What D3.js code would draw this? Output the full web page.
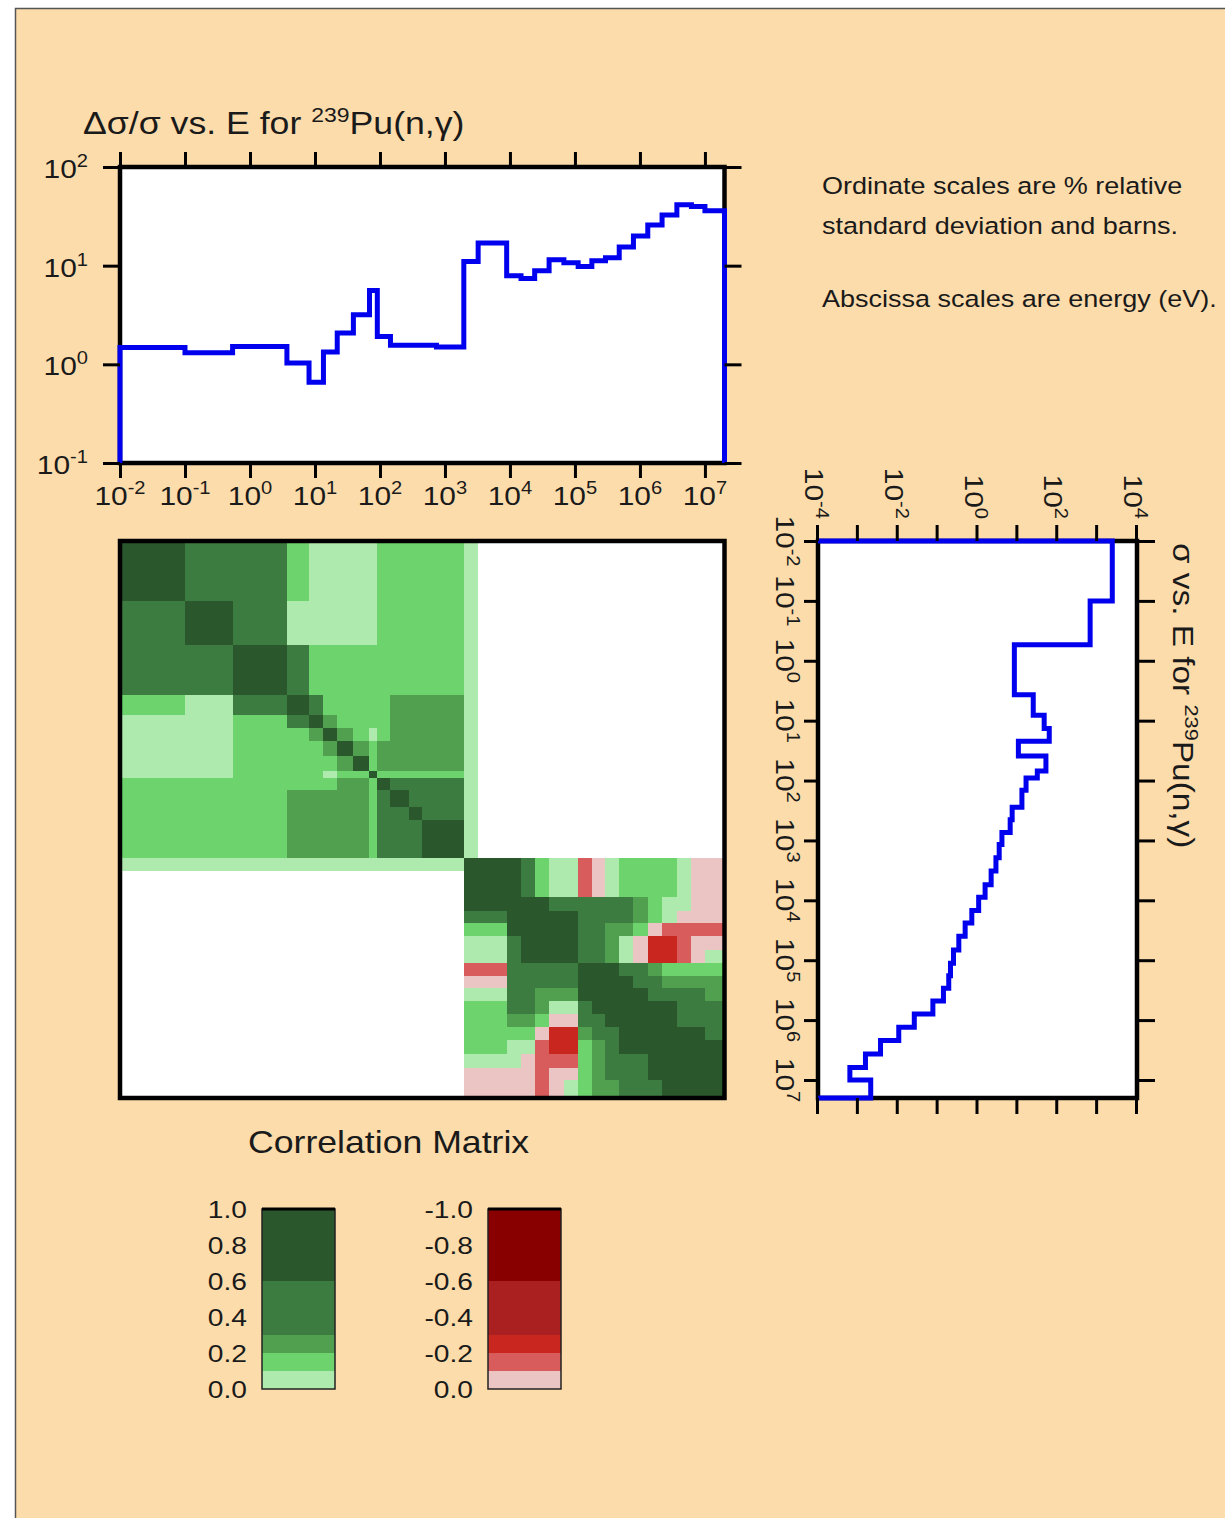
<!DOCTYPE html>
<html>
<head>
<meta charset="utf-8">
<script src="https://cdn.jsdelivr.net/npm/d3@7"></script>
<style>
body { margin: 0; background: #fff; }
text { font-family: "Liberation Sans", Arial, Helvetica, sans-serif; fill: #1a1a1a; white-space: pre; }
</style>
</head>
<body>
<div id="chart"></div>
<script>
// energy group boundaries (eV), 33 groups
var groupEdges = [0.01, 0.1, 0.54, 3.7, 8.1, 13.5, 22, 39, 69, 91, 145, 280, 450, 740, 1170, 1950,
  3240, 5500, 8900, 14800, 24000, 40000, 67600, 112000, 182000, 295000, 480000, 794000,
  1.32e6, 2.19e6, 3.7e6, 6.2e6, 1e7, 2e7];

// relative standard deviation (%) per group
var relStdDev = [1.48, 1.31, 1.52, 1.03, 0.66, 1.33, 2.08, 3.18, 5.6, 1.92, 1.56, 1.56, 1.56, 1.5, 1.5,
  11.0, 17.0, 17.0, 7.9, 7.4, 8.9, 11.5, 10.7, 9.8, 11.2, 12.0, 15.5, 20.0, 25.8, 32.7, 41.5, 39.7, 36.0];

// capture cross section (barns) per group
var crossSection = [2400, 668, 8.4, 25, 47, 63, 10.6, 52, 31.6, 16.5, 13, 7.4, 6.6, 4.1, 3.5,
  2.9, 2.2, 1.55, 1.07, 0.72, 0.49, 0.34, 0.25, 0.21, 0.19, 0.14, 0.076, 0.026, 0.0106, 0.0037,
  0.00155, 0.00063, 0.0021];

// correlation matrix, upper triangle: row i starts at the diagonal
// D .6-1, M .3-.6, G .2-.3, B .1-.2, P 0-.1, r 0..-.1, s -.1..-.2, t -.2..-.3, "." none
var corrUpper = [
  "DMMBPPPPPBBBBBBP.................",
  "DMPPPPPPBBBBBBP.................",
  "DMBBBBBBBBBBBP.................",
  "DMBBBBBGGGGGP.................",
  "DGBBBBGGGGGP.................",
  "DGBPBGGGGGP.................",
  "DGBGGGGGGP.................",
  "DBGGGGGGP.................",
  "DBBBBBBP.................",
  "DMMMMMP.................",
  "DMMMMP.................",
  "DMMMP.................",
  "DDDP.................",
  "DDP.................",
  "DP.................",
  "DDDDMBPPsrPBBBBPrr",
  "DDDMBPPsrPBBBBPrr",
  "DDMBPPsrPBBBBPrr",
  "DDDMMMMMMGBPPrr",
  "DDDDMMMMGBPrrr",
  "DDDMMGGBrssss",
  "DDMMGPrttsrr",
  "DMMGPrttsrP",
  "DDDMMGBBBB",
  "DDDMMGGGG",
  "DDDMMMMG",
  "DDDDMMM",
  "DDDMMM",
  "DDDDM",
  "DDDD",
  "DDD",
  "DD",
  "D"
];
var corrCodes = {D: 0.8, M: 0.45, G: 0.25, B: 0.15, P: 0.05, r: -0.05, s: -0.15, t: -0.25, u: -0.45, v: -0.8};

var corrThresholds = [0.1, 0.2, 0.3, 0.6];
var greenColors = ["#AEEAAD", "#6CD36D", "#50A04F", "#3D7C41", "#2B572C"];
var redColors = ["#EBC4C4", "#D95C5C", "#C8261F", "#AA1F1F", "#880000"];
var legendBands = [0, 0.1, 0.2, 0.3, 0.6, 1.0];
var legendTicks = [0, 0.2, 0.4, 0.6, 0.8, 1.0];

var energyTicks = [1e-2, 1e-1, 1, 10, 1e2, 1e3, 1e4, 1e5, 1e6, 1e7];
var relTicks = [0.1, 1, 10, 100];
var xsTicks = [1e-4, 1e-3, 1e-2, 1e-1, 1, 10, 1e2, 1e3, 1e4];
var xsLabelTicks = [1e-4, 1e-2, 1, 1e2, 1e4];

var SX = 1.15; // wide lettering of the original
var blue = "#0000EE";

var svg = d3.select("#chart").append("svg")
  .attr("width", 1225)
  .attr("height", 1518);

svg.append("rect").attr("width", 1225).attr("height", 1518).attr("fill", "#fff");
svg.append("rect")
  .attr("x", 15.5).attr("y", 8.5)
  .attr("width", 1240).attr("height", 1540)
  .attr("fill", "#FDDCAB")
  .attr("stroke", "#555")
  .attr("stroke-width", 1.5);

function label(parent, x, y, size, anchor) {
  return parent.append("g")
    .attr("transform", "translate(" + x + "," + y + ") scale(" + SX + ",1)")
    .append("text")
    .attr("text-anchor", anchor || "start")
    .style("font-size", size + "px");
}
function powTen(parent, x, y, v, anchor) {
  var t = label(parent, x, y, 26, anchor);
  t.append("tspan").text("10");
  t.append("tspan").attr("dy", -11).style("font-size", "17.5px").text(String(Math.round(Math.log10(v))));
}
function tickStyle(g) {
  g.select(".domain").remove();
  g.selectAll(".tick line").attr("stroke", "#000").attr("stroke-width", 3);
}
function stepPoints(values, floor) {
  var pts = [[groupEdges[0], floor]];
  values.forEach(function(v, i) {
    pts.push([groupEdges[i], v]);
    pts.push([groupEdges[i + 1], v]);
  });
  pts.push([groupEdges[groupEdges.length - 1], floor]);
  return pts;
}
function corrColor(v) {
  var s = d3.scaleThreshold().domain(corrThresholds);
  return v >= 0 ? s.range(greenColors)(v) : s.range(redColors)(-v);
}

// ---------- top plot: relative std dev vs energy ----------
var xE = d3.scaleLog().domain([1e-2, 2e7]).range([120, 724.5]);
var yRel = d3.scaleLog().domain([0.1, 100]).range([463, 167]);

var topPlot = svg.append("g");
topPlot.append("rect")
  .attr("x", 120).attr("y", 167)
  .attr("width", 604.5).attr("height", 296)
  .attr("fill", "#fff").attr("stroke", "#000").attr("stroke-width", 4.5);

topPlot.append("path")
  .datum(stepPoints(relStdDev, 0.1))
  .attr("fill", "none")
  .attr("stroke", blue)
  .attr("stroke-width", 5)
  .attr("d", d3.line().x(function(d) { return xE(d[0]); }).y(function(d) { return yRel(d[1]); }));

topPlot.append("g").attr("transform", "translate(0,167)")
  .call(d3.axisTop(xE).tickValues(energyTicks).tickSize(15).tickFormat("")).call(tickStyle);
topPlot.append("g").attr("transform", "translate(0,463)")
  .call(d3.axisBottom(xE).tickValues(energyTicks).tickSize(15).tickFormat("")).call(tickStyle);
topPlot.append("g").attr("transform", "translate(120,0)")
  .call(d3.axisLeft(yRel).tickValues(relTicks).tickSize(17).tickFormat("")).call(tickStyle);
topPlot.append("g").attr("transform", "translate(724.5,0)")
  .call(d3.axisRight(yRel).tickValues(relTicks).tickSize(17).tickFormat("")).call(tickStyle);

energyTicks.forEach(function(v) { powTen(topPlot, xE(v), 505, v, "middle"); });
relTicks.forEach(function(v) { powTen(topPlot, 88, yRel(v) + 11, v, "end"); });

var t1 = label(topPlot, 83, 134, 31, "start");
t1.append("tspan").text("\u0394\u03c3/\u03c3 vs. E for ");
t1.append("tspan").attr("dy", -12).style("font-size", "20px").text("239");
t1.append("tspan").attr("dy", 12).text("Pu(n,\u03b3)");

// notes
var notes = [["Ordinate scales are % relative", 194], ["standard deviation and barns.", 234], ["Abscissa scales are energy (eV).", 307]];
notes.forEach(function(n) { label(svg, 822, n[1], 23.5, "start").text(n[0]); });

// ---------- right plot: cross section vs energy (rotated) ----------
var plotLen = 557, plotDepth = 319;
var eLoc = d3.scaleLog().domain([1e-2, 2e7]).range([0, plotLen]);
var sLoc = d3.scaleLog().domain([1e-4, 1e4]).range([plotDepth, 0]);

var side = svg.append("g").attr("transform", "translate(1137,541) rotate(90)");
side.append("rect")
  .attr("x", 0).attr("y", 0)
  .attr("width", plotLen).attr("height", plotDepth)
  .attr("fill", "#fff").attr("stroke", "#000").attr("stroke-width", 4.5);

side.append("path")
  .datum(stepPoints(crossSection, 1e-4))
  .attr("fill", "none")
  .attr("stroke", blue)
  .attr("stroke-width", 5)
  .attr("d", d3.line().x(function(d) { return eLoc(d[0]); }).y(function(d) { return sLoc(d[1]); }));

side.append("g")
  .call(d3.axisTop(eLoc).tickValues(energyTicks).tickSize(18).tickFormat("")).call(tickStyle);
side.append("g").attr("transform", "translate(0," + plotDepth + ")")
  .call(d3.axisBottom(eLoc).tickValues(energyTicks).tickSize(14).tickFormat("")).call(tickStyle);
side.append("g")
  .call(d3.axisLeft(sLoc).tickValues(xsTicks).tickSize(16).tickFormat("")).call(tickStyle);
side.append("g").attr("transform", "translate(" + plotLen + ",0)")
  .call(d3.axisRight(sLoc).tickValues(xsTicks).tickSize(16).tickFormat("")).call(tickStyle);

energyTicks.forEach(function(v) { powTen(side, eLoc(v), plotDepth + 42, v, "middle"); });
xsLabelTicks.forEach(function(v) { powTen(side, -22, sLoc(v) + 13, v, "end"); });

var t2 = label(side, 2, -36, 29, "start");
t2.append("tspan").text("\u03c3 vs. E for ");
t2.append("tspan").attr("dy", -12).style("font-size", "19px").text("239");
t2.append("tspan").attr("dy", 12).text("Pu(n,\u03b3)");

// ---------- correlation matrix ----------
var yM = d3.scaleLog().domain([1e-2, 2e7]).range([541, 541 + plotLen]);
var cells = [];
corrUpper.forEach(function(row, i) {
  row.split("").forEach(function(c, k) {
    if (c === ".") return;
    var j = i + k;
    cells.push({r: i, c: j, v: corrCodes[c]});
    if (j !== i) cells.push({r: j, c: i, v: corrCodes[c]});
  });
});

var mat = svg.append("g");
mat.append("rect")
  .attr("x", 120).attr("y", 541)
  .attr("width", 604.5).attr("height", plotLen)
  .attr("fill", "#fff");
mat.selectAll("rect.cell")
  .data(cells)
  .enter()
  .append("rect")
  .attr("class", "cell")
  .attr("x", function(d) { return xE(groupEdges[d.c]); })
  .attr("y", function(d) { return yM(groupEdges[d.r]); })
  .attr("width", function(d) { return xE(groupEdges[d.c + 1]) - xE(groupEdges[d.c]); })
  .attr("height", function(d) { return yM(groupEdges[d.r + 1]) - yM(groupEdges[d.r]); })
  .attr("fill", function(d) { return corrColor(d.v); })
  .attr("shape-rendering", "crispEdges");
mat.append("rect")
  .attr("x", 120).attr("y", 541)
  .attr("width", 604.5).attr("height", plotLen)
  .attr("fill", "none").attr("stroke", "#000").attr("stroke-width", 4.5);

label(svg, 248, 1153, 31, "start").text("Correlation Matrix");

// ---------- legends ----------
var legY = d3.scaleLinear().domain([0, 1]).range([1389, 1209]);
[{x: 262, sign: 1, lx: 247}, {x: 488, sign: -1, lx: 473}].forEach(function(L) {
  var g = svg.append("g");
  g.selectAll("rect")
    .data(d3.range(legendBands.length - 1))
    .enter()
    .append("rect")
    .attr("x", L.x)
    .attr("y", function(k) { return legY(legendBands[k + 1]); })
    .attr("width", 73)
    .attr("height", function(k) { return legY(legendBands[k]) - legY(legendBands[k + 1]); })
    .attr("fill", function(k) { return corrColor(L.sign * (legendBands[k] + legendBands[k + 1]) / 2); })
    .attr("shape-rendering", "crispEdges");
  g.append("rect")
    .attr("x", L.x).attr("y", legY(1))
    .attr("width", 73).attr("height", legY(0) - legY(1))
    .attr("fill", "none").attr("stroke", "#222").attr("stroke-width", 1.5);
  g.append("line")
    .attr("x1", L.x).attr("x2", L.x + 73)
    .attr("y1", legY(1)).attr("y2", legY(1))
    .attr("stroke", "#000").attr("stroke-width", 3);
  legendTicks.forEach(function(v) {
    var txt = v === 0 ? "0.0" : (L.sign * v).toFixed(1);
    label(g, L.lx, legY(v) + 8.5, 24.5, "end").text(txt);
  });
});
</script>
</body>
</html>
